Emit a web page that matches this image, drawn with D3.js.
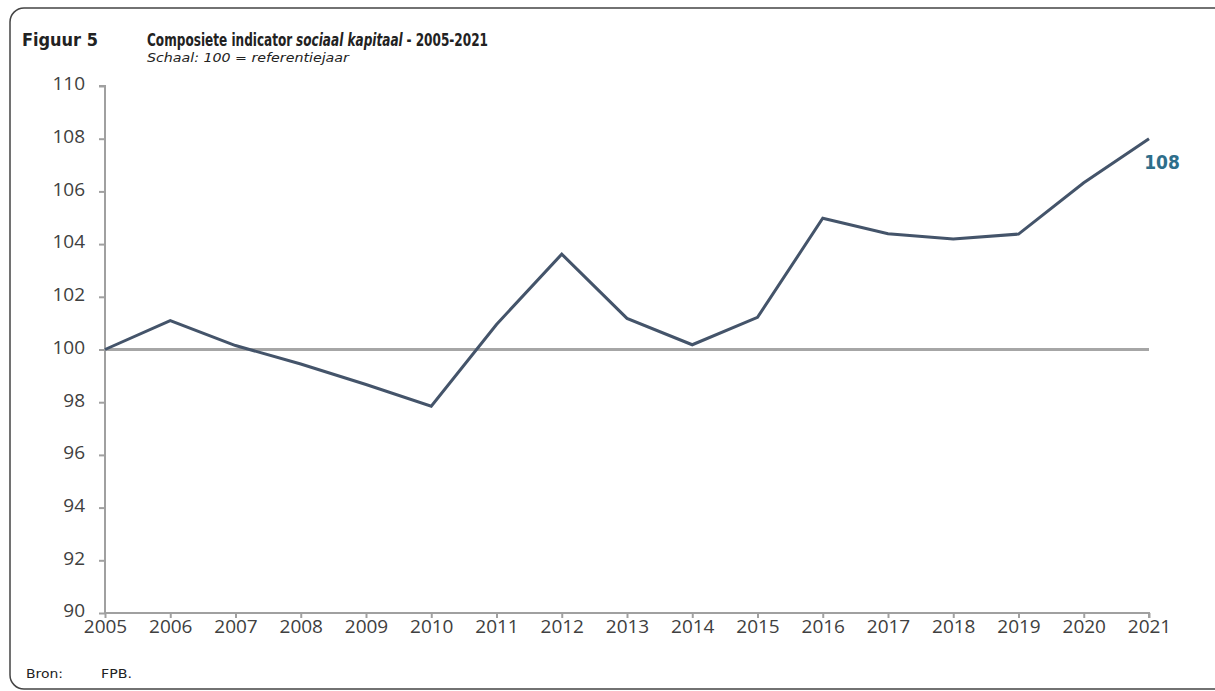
<!DOCTYPE html>
<html><head><meta charset="utf-8">
<script src="https://cdn.jsdelivr.net/npm/d3@7"></script>
<style>body{margin:0;background:#fff}svg{display:block}</style>
</head><body>
<svg id="c" width="1215" height="691"></svg>
<script>
const years = [2005,2006,2007,2008,2009,2010,2011,2012,2013,2014,2015,2016,2017,2018,2019,2020,2021];
const values = [100,101.1,100.15,99.45,98.67,97.85,100.95,103.62,101.18,100.18,101.22,104.98,104.39,104.19,104.38,106.33,108.0];
const yTicks = [90,92,94,96,98,100,102,104,106,108,110];
const refValue = 100;
const endLabel = "108";

const svg = d3.select("#c");
svg.append("rect").attr("x",10).attr("y",8).attr("width",1230).attr("height",681).attr("rx",14)
  .attr("fill","none").attr("stroke","#444").attr("stroke-width",1.5);

const x = d3.scalePoint().domain(years).range([105,1149]);
const y = d3.scaleLinear().domain([90,110]).range([613,86]);

const tf = "DejaVu Sans Condensed, DejaVu Sans";
// Fit a sequence of text segments into a given width by scaling the group horizontally
function fitted(segments, x0, y0, size, width) {
  const g = svg.append("g");
  let cx = 0;
  segments.forEach(s => {
    const e = g.append("text").attr("x",cx).attr("y",0).attr("font-family",tf).attr("font-size",size)
      .attr("fill","#222").attr("font-weight",s.bold?"bold":null).attr("font-style",s.italic?"italic":null)
      .attr("xml:space","preserve").text(s.t);
    cx += e.node().getComputedTextLength() + (s.gap||0);
  });
  const sx = width / cx;
  g.attr("transform",`translate(${x0},${y0}) scale(${sx},1)`);
  return g;
}
fitted([{t:"Figuur 5",bold:true}], 22, 46, 18, 76);
fitted([{t:"Composiete indicator",bold:true,gap:5},{t:"sociaal kapitaal",bold:true,italic:true,gap:5},{t:"- 2005-2021",bold:true}], 147, 46, 18, 341);
fitted([{t:"Schaal: 100 = referentiejaar",italic:true}], 147, 62, 12.5, 202);

// y axis
const ya = svg.append("g").attr("transform","translate(105,0)")
  .call(d3.axisLeft(y).tickValues(yTicks).tickSize(6).tickPadding(14).tickFormat(d3.format("d")));
ya.select(".domain").attr("stroke","#a0a0a0").attr("stroke-width",2).attr("d","M-6,86H0V613");
ya.selectAll(".tick line").attr("stroke","#a0a0a0").attr("stroke-width",2);
ya.selectAll(".tick text").attr("font-family","Open Sans, Noto Sans").attr("font-size",19).attr("fill","#404040").attr("dy","0.2em");

// x axis
const xa = svg.append("g").attr("transform","translate(0,613)")
  .call(d3.axisBottom(x).tickSize(5).tickPadding(4).tickFormat(d3.format("d")));
xa.select(".domain").attr("stroke","#a0a0a0").attr("stroke-width",2).attr("d","M105,0H1149V5");
xa.selectAll(".tick line").attr("stroke","#a0a0a0").attr("stroke-width",2);
xa.selectAll(".tick text").attr("font-family","Open Sans, Noto Sans").attr("font-size",19).attr("fill","#404040").attr("dy","0.6em");

// reference line
svg.append("line").attr("x1",x(years[0])).attr("x2",x(years[years.length-1])).attr("y1",y(refValue)).attr("y2",y(refValue))
  .attr("stroke","#a6a6a6").attr("stroke-width",3);

// series
svg.append("path").datum(values.map((v,i)=>[years[i],v]))
  .attr("fill","none").attr("stroke","#44546a").attr("stroke-width",3).attr("stroke-linejoin","miter")
  .attr("d",d3.line().x(d=>x(d[0])).y(d=>y(d[1])));

svg.append("text").attr("x",x(2021)+13).attr("y",y(values[values.length-1])+30).attr("text-anchor","middle")
  .attr("font-family",tf).attr("font-weight","bold").attr("font-size",19).attr("fill","#2e6e8a").text(endLabel);

fitted([{t:"Bron:"}], 26, 678, 13, 37);
fitted([{t:"FPB."}], 101, 678, 13, 31);
</script>
</body></html>
